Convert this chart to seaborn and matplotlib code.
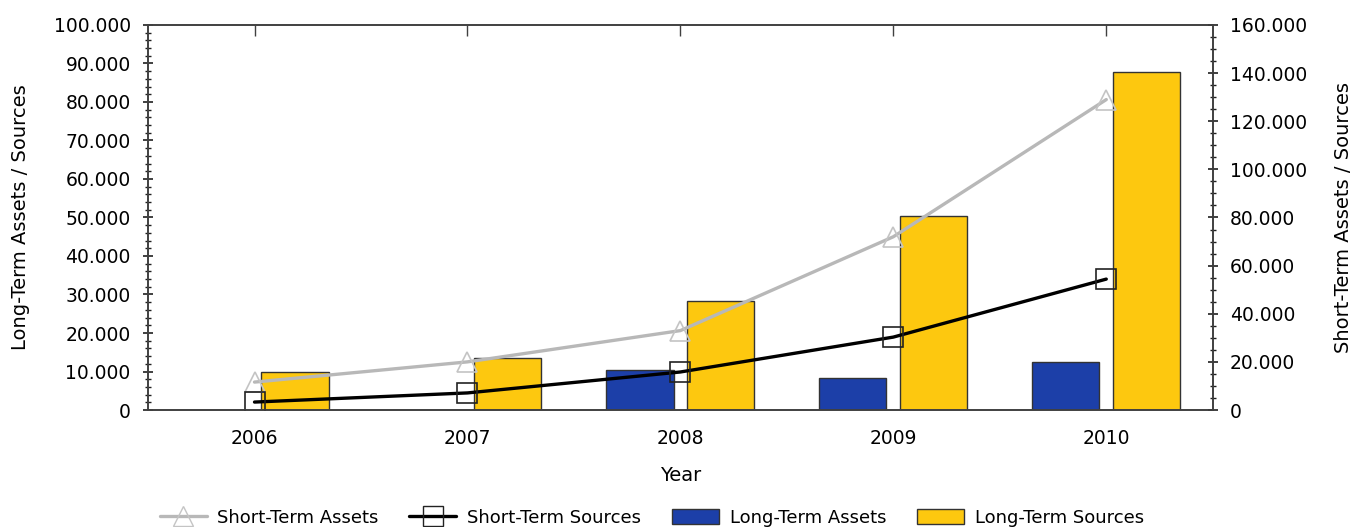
# Long-term vs short-term assets and sources, bars + lines on twin axes

import numpy as np
import pandas as pd
import seaborn as sns
import matplotlib.pyplot as plt
from matplotlib.ticker import FuncFormatter, MultipleLocator
from matplotlib.lines import Line2D
from matplotlib.patches import Patch

sns.set_theme(style="white")
plt.rcParams['font.family'] = ['DejaVu Sans']
plt.rcParams['text.color'] = 'black'
plt.rcParams['axes.labelcolor'] = 'black'

# Data
years = ['2006', '2007', '2008', '2009', '2010']
long_term_assets = [0, 0, 10400, 8300, 12500]
long_term_sources = [9900, 13500, 28300, 50400, 87800]
short_term_assets = [11600, 20000, 33000, 72000, 129000]
short_term_sources = [3300, 7100, 15800, 30300, 54400]

bars = pd.DataFrame({
    'Year': years * 2,
    'Value': long_term_assets + long_term_sources,
    'Series': ['Long-Term Assets'] * 5 + ['Long-Term Sources'] * 5,
})
lines = pd.DataFrame({
    'pos': np.arange(len(years)),
    'assets': short_term_assets,
    'sources': short_term_sources,
})

blue = '#1c3fa8'
yellow = '#fdc80f'
grey = '#b8b8b8'
edge = '#333333'

fig, ax = plt.subplots(figsize=(13.52, 5.27), dpi=100)
fig.subplots_adjust(left=0.1095, right=0.897, top=0.9526, bottom=0.222)

sns.barplot(data=bars, x='Year', y='Value', hue='Series',
            palette=[blue, yellow], saturation=1, width=0.76, gap=0.17,
            edgecolor=edge, linewidth=1, ax=ax, legend=False)

ax2 = ax.twinx()
sns.lineplot(data=lines, x='pos', y='assets', ax=ax2, color=grey, lw=2.4,
             marker='^', markersize=15, markerfacecolor='none',
             markeredgecolor='#c4c4c4', markeredgewidth=1.2)
sns.lineplot(data=lines, x='pos', y='sources', ax=ax2, color='black', lw=2.4,
             marker='s', markersize=14, markerfacecolor='none',
             markeredgecolor='#222222', markeredgewidth=1.2)

fmt = FuncFormatter(lambda v, p: f"{v:,.0f}".replace(",", "."))

ax.set_xlim(-0.5, 4.5)
ax2.set_xlim(-0.5, 4.5)
ax.set_ylim(0, 100000)
ax2.set_ylim(0, 160000)
ax.yaxis.set_major_locator(MultipleLocator(10000))
ax.yaxis.set_minor_locator(MultipleLocator(2000))
ax2.yaxis.set_major_locator(MultipleLocator(20000))
ax2.yaxis.set_minor_locator(MultipleLocator(5000))
ax.yaxis.set_major_formatter(fmt)
ax2.yaxis.set_major_formatter(fmt)

for a in (ax, ax2):
    for s in a.spines.values():
        s.set_color('#404040')
        s.set_linewidth(1.2)
    a.tick_params(axis='y', which='major', direction='inout', length=7,
                  width=1.2, color='#202020', labelsize=13.5, pad=9,
                  labelcolor='black')
    a.tick_params(axis='y', which='minor', direction='inout', length=4,
                  width=1, color='#202020', left=(a is ax), right=(a is ax2))

ax.tick_params(axis='x', which='major', direction='inout', length=9,
               width=1, color='#404040', labelsize=13.5, pad=9,
               labelcolor='black')

top = ax.secondary_xaxis('top')
top.set_xticks(range(len(years)))
top.tick_params(direction='in', length=8, width=1, color='#404040',
                labeltop=False)
top.spines['top'].set_visible(False)

ax.set_xlabel('Year', fontsize=14, labelpad=13)
ax.set_ylabel('Long-Term Assets / Sources', fontsize=14, labelpad=17)
ax2.set_ylabel('Short-Term Assets / Sources', fontsize=14, labelpad=19)
ax.grid(False)
ax2.grid(False)

handles = [
    Line2D([], [], color=grey, lw=2.4, marker='^', markersize=15,
           markerfacecolor='none', markeredgecolor='#c4c4c4'),
    Line2D([], [], color='black', lw=2.4, marker='s', markersize=14,
           markerfacecolor='none', markeredgecolor='#222222'),
    Patch(facecolor=blue, edgecolor=edge),
    Patch(facecolor=yellow, edgecolor=edge),
]
labels = ['Short-Term Assets', 'Short-Term Sources',
          'Long-Term Assets', 'Long-Term Sources']
fig.legend(handles, labels, loc='lower center', ncol=4, frameon=False,
           fontsize=13, bbox_to_anchor=(0.482, -0.03), handlelength=2.6,
           handleheight=0.9, handletextpad=0.6, columnspacing=1.7)

fig.savefig('out.png', dpi=100)
plt.close()
